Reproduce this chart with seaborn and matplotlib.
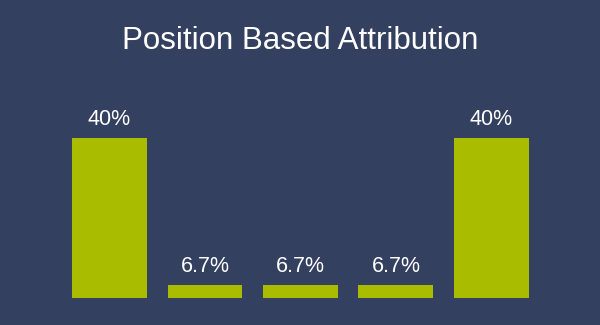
import matplotlib
matplotlib.use("Agg")
import matplotlib.pyplot as plt
import seaborn as sns
import pandas as pd

categories = ["First Touch", "Middle 1", "Middle 2", "Middle 3", "Last Touch"]
values = [40, 6.7, 6.7, 6.7, 40]
labels = ["40%", "6.7%", "6.7%", "6.7%", "40%"]
title = "Position Based Attribution"

BG = "#344060"
BAR = "#a9bc00"

sns.set_style("white")
plt.rcParams["font.family"] = ["Liberation Sans", "DejaVu Sans"]

df = pd.DataFrame({"touch": categories, "credit": values})

fig = plt.figure(figsize=(6, 3.25), dpi=100, facecolor=BG)
ax = fig.add_axes([0.1029, 0.0831, 0.7958, 0.6092])
ax.set_facecolor(BG)

sns.barplot(data=df, x="touch", y="credit", color=BAR, saturation=1,
            width=0.785, linewidth=0, edgecolor=BAR, ax=ax)

ax.set_xlim(-0.5, 4.5)
ax.set_ylim(3.755, 48.6)
for s in ax.spines.values():
    s.set_visible(False)
ax.set_xticks([])
ax.set_yticks([])
ax.set_xlabel("")
ax.set_ylabel("")

for i, (v, lab) in enumerate(zip(values, labels)):
    ax.annotate(lab, (i, v), xytext=(0, 9.6), textcoords="offset points",
                ha="center", va="baseline", color="white", fontsize=15.5)

fig.text(0.5, 1 - 41 / 325, title, ha="center", va="center",
         color="white", fontsize=22.5)

fig.savefig("out.png", dpi=100, facecolor=BG)
